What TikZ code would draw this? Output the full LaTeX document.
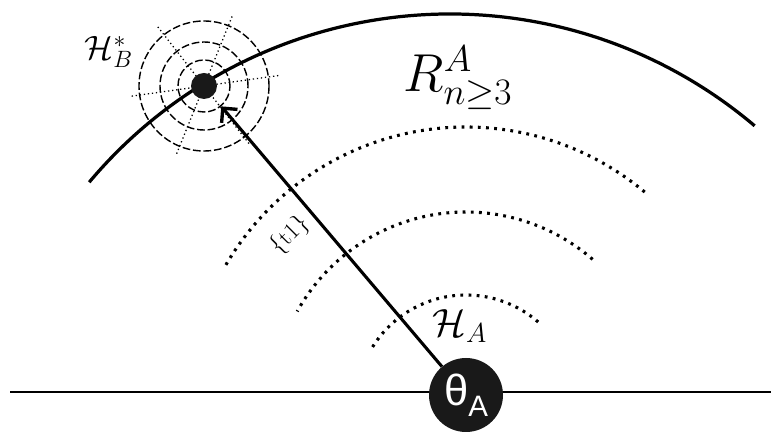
\RequirePackage{fix-cm}
\documentclass[tikz,border=0pt]{standalone}
\usepackage{fontspec}
\newfontfamily\labelsans{Liberation Sans}
\usetikzlibrary{arrows.meta, positioning}

\begin{document}
\begin{tikzpicture}[
    spot/.style={circle, fill=black!90, inner sep=0pt},
    halo/.style={circle, draw, dash pattern=on 5.5pt off 2pt, line width=1pt, inner sep=0pt},
    spoke/.style={dotted, line width=0.9pt},
    wave/.style={line width=2.2pt, dash pattern=on 2pt off 3.8pt},
    rim/.style={line width=2.3pt},
    arrow/.style={-{Straight Barb[length=2.6mm, width=5.2mm, line width=2.4pt]}, line width=2.2pt}
]
\useasboundingbox (0,0) rectangle (19.275,10.8);

% Ground line
\coordinate (gl) at (0.25,1);
\coordinate (gr) at (19.275,1);
\draw[line width=1.1pt] (gl) -- (gr);

% Wave fronts around the source
\coordinate (wc) at (11.65,0.675);
\foreach \r/\a/\b in {2.75/49/149, 4.825/49/151, 6.95/50/150}
    \draw[wave] (wc) ++(\a:\r) arc[start angle=\a, end angle=\b, radius=\r];

% Outer region boundary
\coordinate (rc) at (11.25,-1.325);
\draw[rim] (rc) ++(140:11.775) arc[start angle=140, end angle=49.7, radius=11.775];

% Target point and its halo
\coordinate (hbc) at (5.1,8.65);
\foreach \ang in {8,68,128}
    \draw[spoke] (hbc) ++(\ang:1.875) -- ++({\ang+180}:3.75);
\node[halo, minimum size=1.3cm] (halo1) at (hbc) {};
\node[halo, minimum size=2.2cm] (halo2) at (hbc) {};
\node[halo, minimum size=3.25cm] (halo3) at (hbc) {};
\node[spot, minimum size=0.65cm] (hb) at (hbc) {};

% Source node
\node[spot, minimum size=1.85cm, text=white, font=\labelsans\fontsize{31}{31}\selectfont] (theta) at (11.65,0.925) {θ\raisebox{-0.5ex}{\fontsize{21}{21}\selectfont A}};

% Labels
\node[font=\fontsize{38}{40}\selectfont] (rlabel) at (11.45,8.85) {$R^A_{n\geq3}$};
\node[font=\fontsize{24}{26}\selectfont] (hblabel) at (2.72,9.5) {$\mathcal{H}_B^*$};
\node[font=\fontsize{28}{30}\selectfont] (halabel) at (11.5,2.65) {$\mathcal{H}_A$};
\node[font=\fontsize{17}{19}\selectfont, rotate=45] (tlabel) at (7.25,4.92) {\{t1\}};

% Path from source to target
\draw[arrow] (theta) -- (halo1);

\end{tikzpicture}
\end{document}
